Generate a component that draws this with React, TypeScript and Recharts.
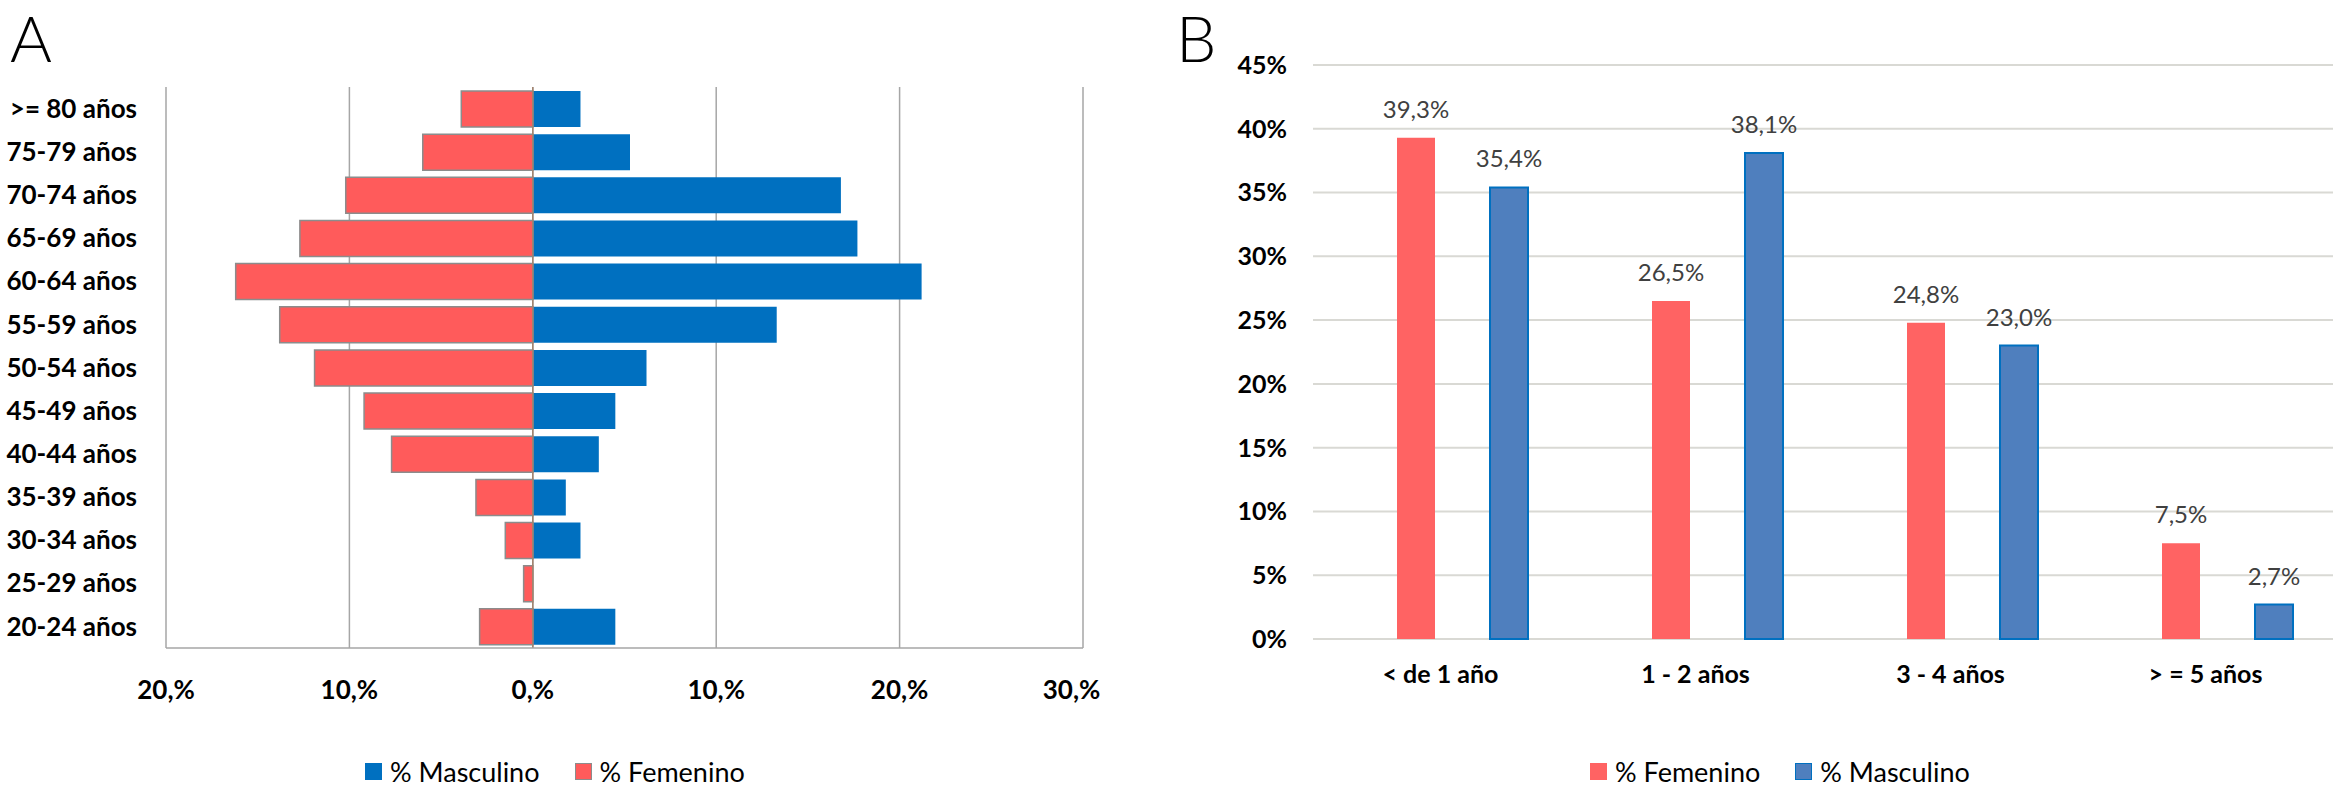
import {
  BarChart,
  Bar,
  XAxis,
  YAxis,
  CartesianGrid,
  Legend,
  LabelList,
  ReferenceLine,
} from "recharts";

const FONT = "Lato, 'Open Sans', sans-serif";

// Panel A: age pyramid (%)
const ageGroups = [
  ">= 80 años",
  "75-79 años",
  "70-74 años",
  "65-69 años",
  "60-64 años",
  "55-59 años",
  "50-54 años",
  "45-49 años",
  "40-44 años",
  "35-39 años",
  "30-34 años",
  "25-29 años",
  "20-24 años",
];
const masculinoA = [2.6, 5.3, 16.8, 17.7, 21.2, 13.3, 6.2, 4.5, 3.6, 1.8, 2.6, 0, 4.5];
const femeninoA = [3.9, 6.0, 10.2, 12.7, 16.2, 13.8, 11.9, 9.2, 7.7, 3.1, 1.5, 0.5, 2.9];
const ticksA = [-20, -10, 0, 10, 20, 30];

// Panel B: time groups (%)
const tiempos = ["< de 1 año", "1 - 2 años", "3 - 4 años", "> = 5 años"];
const femeninoB = [39.3, 26.5, 24.8, 7.5];
const masculinoB = [35.4, 38.1, 23.0, 2.7];
const ticksB = [0, 5, 10, 15, 20, 25, 30, 35, 40, 45];

const RED_A = "#FF5B5B";
const BLUE_A = "#0070C0";
const RED_B = "#FF6363";
const BLUE_B = "#4F7FBE";

const dataA = ageGroups.map((age, i) => ({
  age,
  masc: masculinoA[i],
  fem: -femeninoA[i],
}));

const dataB = tiempos.map((cat, i) => ({
  cat,
  fem: femeninoB[i],
  masc: masculinoB[i],
}));

type Item = { name: string; fill: string; stroke: string };

function LegendBox({ items }: { items: Item[] }) {
  return (
    <div
      style={{
        display: "flex",
        alignItems: "center",
        fontFamily: FONT,
        fontSize: 27,
        color: "#000",
        whiteSpace: "nowrap",
        height: 26,
      }}
    >
      {items.map((it, i) => (
        <div
          key={it.name}
          style={{ display: "flex", alignItems: "center", marginLeft: i ? 35 : 0 }}
        >
          <span
            style={{
              display: "inline-block",
              width: 17,
              height: 17,
              boxSizing: "border-box",
              background: it.fill,
              border: `1.5px solid ${it.stroke}`,
              marginRight: 8,
            }}
          />
          <span>{it.name}</span>
        </div>
      ))}
    </div>
  );
}

const fmtLabel = (v: any) => `${Number(v).toFixed(1).replace(".", ",")}%`;

function CatTick({ x, y, payload }: any) {
  return (
    <text
      x={x - 22}
      y={y}
      dy="0.71em"
      textAnchor="middle"
      fontFamily={FONT}
      fontSize={25}
      fontWeight={700}
      fill="#000"
    >
      {payload.value}
    </text>
  );
}

function Pyramid() {
  return (
    <BarChart
      width={1100}
      height={791}
      data={dataA}
      layout="vertical"
      stackOffset="sign"
      margin={{ top: 87, right: 17, bottom: 83, left: 0 }}
    >
      <CartesianGrid horizontal={false} stroke="#a6a6a6" strokeWidth={1.5} />
      <XAxis
        type="number"
        domain={[-20, 30]}
        ticks={ticksA}
        height={60}
        tickFormatter={(v) => `${Math.abs(v)},%`}
        tickLine={false}
        tickMargin={27}
        axisLine={{ stroke: "#a6a6a6", strokeWidth: 1.5 }}
        tick={{ fontFamily: FONT, fontSize: 26, fontWeight: 700, fill: "#000" }}
      />
      <YAxis
        type="category"
        dataKey="age"
        width={166}
        tickLine={false}
        axisLine={false}
        tickMargin={23}
        interval={0}
        tick={{ fontFamily: FONT, fontSize: 26, fontWeight: 700, fill: "#000" }}
      />
      <Bar
        dataKey="masc"
        name="% Masculino"
        stackId="a"
        fill={BLUE_A}
        barSize={36}
        isAnimationActive={false}
      />
      <Bar
        dataKey="fem"
        name="% Femenino"
        stackId="a"
        fill={RED_A}
        stroke="#8c8c8c"
        strokeWidth={1.5}
        barSize={36}
        isAnimationActive={false}
      />
      <ReferenceLine x={0} stroke="#a3846f" strokeWidth={1.5} />
      <Legend
        layout="horizontal"
        verticalAlign="middle"
        align="center"
        wrapperStyle={{ left: 365, top: 758, width: "auto" }}
        content={() => (
          <LegendBox
            items={[
              { name: "% Masculino", fill: BLUE_A, stroke: BLUE_A },
              { name: "% Femenino", fill: RED_A, stroke: "#8c8c8c" },
            ]}
          />
        )}
      />
    </BarChart>
  );
}

function Antiguedad() {
  return (
    <BarChart
      width={1241}
      height={791}
      data={dataB}
      barGap={55}
      margin={{ top: 65, right: 8, bottom: 92, left: 0 }}
    >
      <CartesianGrid vertical={false} stroke="#d9d9d4" strokeWidth={2} />
      <XAxis
        dataKey="cat"
        height={60}
        padding={{ left: 22, right: -22 }}
        tickLine={false}
        axisLine={false}
        tickMargin={20}
        interval={0}
        tick={<CatTick />}
      />
      <YAxis
        type="number"
        domain={[0, 45]}
        ticks={ticksB}
        width={213}
        tickLine={false}
        axisLine={false}
        tickMargin={20}
        tickFormatter={(v) => `${v}%`}
        tick={{ fontFamily: FONT, fontSize: 25, fontWeight: 700, fill: "#000" }}
      />
      <Bar dataKey="fem" name="% Femenino" fill={RED_B} barSize={38} isAnimationActive={false}>
        <LabelList
          dataKey="fem"
          position="top"
          offset={20}
          formatter={fmtLabel}
          style={{ fontFamily: FONT, fontSize: 24, fill: "#404040" }}
        />
      </Bar>
      <Bar
        dataKey="masc"
        name="% Masculino"
        fill={BLUE_B}
        stroke={BLUE_A}
        strokeWidth={2}
        barSize={38}
        isAnimationActive={false}
      >
        <LabelList
          dataKey="masc"
          position="top"
          offset={20}
          formatter={fmtLabel}
          style={{ fontFamily: FONT, fontSize: 24, fill: "#404040" }}
        />
      </Bar>
      <Legend
        layout="horizontal"
        verticalAlign="middle"
        align="center"
        wrapperStyle={{ left: 490, top: 758, width: "auto" }}
        content={() => (
          <LegendBox
            items={[
              { name: "% Femenino", fill: RED_B, stroke: RED_B },
              { name: "% Masculino", fill: BLUE_B, stroke: BLUE_A },
            ]}
          />
        )}
      />
    </BarChart>
  );
}

const panelLetter = (left: number) => ({
  position: "absolute" as const,
  left,
  top: 0,
  fontSize: 64,
  lineHeight: 1.2,
  fontWeight: 300,
  color: "#000",
});

export default function App() {
  return (
    <div
      style={{
        position: "absolute",
        left: 0,
        top: 0,
        width: 2341,
        height: 791,
        background: "#fff",
        overflow: "hidden",
        fontFamily: FONT,
      }}
    >
      <div style={{ position: "absolute", left: 0, top: 0 }}>
        <Pyramid />
      </div>
      <div style={{ position: "absolute", left: 1100, top: 0 }}>
        <Antiguedad />
      </div>
      <div style={panelLetter(10)}>A</div>
      <div style={panelLetter(1176)}>B</div>
    </div>
  );
}
